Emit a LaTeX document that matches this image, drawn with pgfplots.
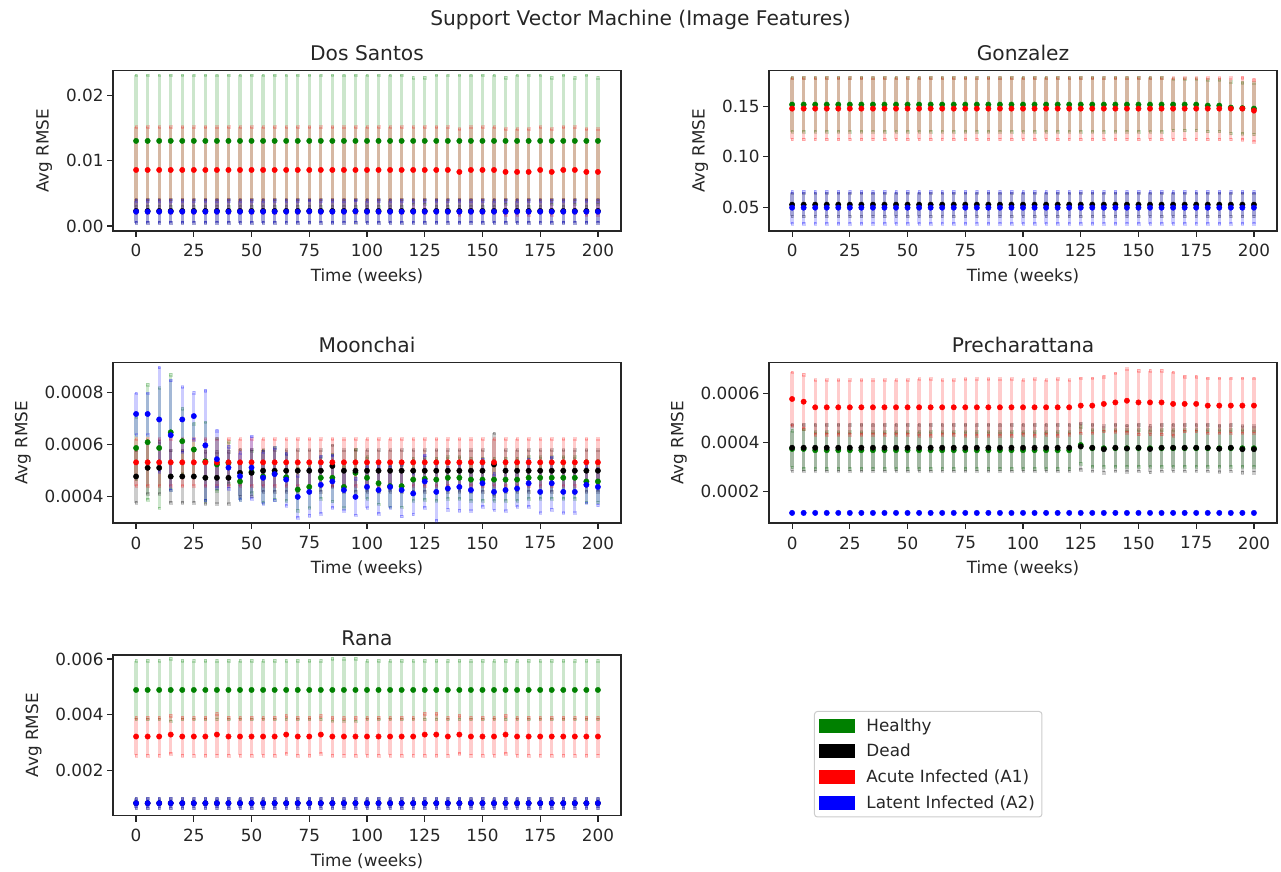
\documentclass[border=0pt]{standalone}
\usepackage{pgfplots}
\pgfplotsset{compat=1.18}
\usepackage{pgfplotstable}
\usepackage{fontspec}
\setmainfont{DejaVu Sans}

\definecolor{mplgreen}{RGB}{0,128,0}
\definecolor{mplred}{RGB}{255,0,0}
\definecolor{mplblue}{RGB}{0,0,255}
\definecolor{legframe}{RGB}{204,204,204}
\definecolor{txt}{RGB}{38,38,38}

\newcommand{\smallfont}{\fontsize{16.8pt}{20pt}\selectfont}
\newcommand{\bigfont}{\fontsize{20.2pt}{24pt}\selectfont}

% x: week; g/d/r/b: mean RMSE of Healthy, Dead, Acute (A1), Latent (A2); *e: error
\pgfplotstableread{
x g ge d de r re b be
0 0.01306 0.0101 0.0023 0.0018 0.0086 0.0066 0.00220 0.0017
5 0.01306 0.0101 0.0023 0.0018 0.0086 0.0066 0.00220 0.0017
10 0.01306 0.0101 0.0023 0.0018 0.0086 0.0066 0.00220 0.0017
15 0.01306 0.0101 0.0023 0.0018 0.0086 0.0066 0.00220 0.0017
20 0.01306 0.0101 0.0023 0.0018 0.0086 0.0066 0.00220 0.0017
25 0.01306 0.0101 0.0023 0.0018 0.0086 0.0066 0.00220 0.0017
30 0.01306 0.0101 0.0023 0.0018 0.0086 0.0066 0.00220 0.0017
35 0.01306 0.0101 0.0023 0.0018 0.0086 0.0066 0.00220 0.0017
40 0.01306 0.0101 0.0023 0.0018 0.0086 0.0066 0.00220 0.0017
45 0.01306 0.0101 0.0023 0.0018 0.0086 0.0066 0.00220 0.0017
50 0.01306 0.0101 0.0023 0.0018 0.0086 0.0066 0.00220 0.0017
55 0.01306 0.0101 0.0023 0.0018 0.0086 0.0066 0.00220 0.0017
60 0.01306 0.0101 0.0023 0.0018 0.0086 0.0066 0.00220 0.0017
65 0.01306 0.0101 0.0023 0.0018 0.0086 0.0066 0.00220 0.0017
70 0.01306 0.0101 0.0023 0.0018 0.0086 0.0066 0.00220 0.0017
75 0.01306 0.0101 0.0023 0.0018 0.0086 0.0066 0.00225 0.0017
80 0.01306 0.0101 0.0023 0.0018 0.0086 0.0066 0.00220 0.0017
85 0.01306 0.0101 0.0023 0.0018 0.0086 0.0066 0.00220 0.0017
90 0.01306 0.0101 0.0023 0.0018 0.0086 0.0066 0.00220 0.0017
95 0.01306 0.0101 0.0023 0.0018 0.0086 0.0066 0.00225 0.0017
100 0.01306 0.0101 0.0023 0.0018 0.0086 0.0066 0.00220 0.0017
105 0.01306 0.0101 0.0023 0.0018 0.0086 0.0066 0.00220 0.0017
110 0.01306 0.0101 0.0023 0.0018 0.0086 0.0066 0.00220 0.0017
115 0.01306 0.0101 0.0023 0.0018 0.0086 0.0066 0.00220 0.0017
120 0.01306 0.0097 0.0023 0.0018 0.0086 0.0066 0.00220 0.0017
125 0.01306 0.0097 0.0023 0.0018 0.0086 0.0066 0.00220 0.0017
130 0.01306 0.0101 0.0023 0.0018 0.0086 0.0066 0.00220 0.0017
135 0.01306 0.0101 0.0023 0.0018 0.0086 0.0066 0.00220 0.0017
140 0.01306 0.0101 0.0023 0.0018 0.0083 0.0066 0.00220 0.0017
145 0.01306 0.0101 0.0023 0.0018 0.0086 0.0066 0.00220 0.0017
150 0.01306 0.0101 0.0023 0.0018 0.0086 0.0066 0.00220 0.0017
155 0.01306 0.0101 0.0023 0.0018 0.0086 0.0066 0.00220 0.0017
160 0.01306 0.0097 0.0023 0.0018 0.0083 0.0066 0.00220 0.0017
165 0.01306 0.0101 0.0023 0.0018 0.0083 0.0066 0.00220 0.0017
170 0.01306 0.0101 0.0023 0.0018 0.0083 0.0066 0.00220 0.0017
175 0.01306 0.0101 0.0023 0.0018 0.0086 0.0066 0.00220 0.0017
180 0.01306 0.0097 0.0023 0.0018 0.0083 0.0066 0.00220 0.0017
185 0.01306 0.0101 0.0023 0.0018 0.0086 0.0066 0.00220 0.0017
190 0.01306 0.0097 0.0023 0.0018 0.0086 0.0066 0.00220 0.0017
195 0.01306 0.0101 0.0023 0.0018 0.0083 0.0066 0.00220 0.0017
200 0.01306 0.0097 0.0023 0.0018 0.0083 0.0066 0.00220 0.0017
}\dossantos

\pgfplotstableread{
x g ge d de r re b be
0 0.152 0.027 0.0525 0.0115 0.148 0.0305 0.0495 0.016
5 0.152 0.027 0.0525 0.0115 0.148 0.0305 0.0495 0.016
10 0.152 0.027 0.0525 0.0115 0.148 0.0305 0.0495 0.016
15 0.152 0.027 0.0525 0.0115 0.148 0.0305 0.0495 0.016
20 0.152 0.027 0.0525 0.0115 0.148 0.0305 0.0495 0.016
25 0.152 0.027 0.0525 0.0115 0.148 0.0305 0.0495 0.016
30 0.152 0.027 0.0525 0.0115 0.148 0.0305 0.0495 0.016
35 0.152 0.027 0.0525 0.0115 0.148 0.0305 0.0495 0.016
40 0.152 0.027 0.0525 0.0115 0.148 0.0305 0.0495 0.016
45 0.152 0.027 0.0525 0.0115 0.148 0.0305 0.0495 0.016
50 0.152 0.027 0.0525 0.0115 0.148 0.0305 0.0495 0.016
55 0.152 0.027 0.0525 0.0115 0.148 0.0305 0.0495 0.016
60 0.152 0.027 0.0525 0.0115 0.148 0.0305 0.0495 0.016
65 0.152 0.027 0.0525 0.0115 0.148 0.0305 0.0495 0.016
70 0.152 0.027 0.0525 0.0115 0.148 0.0305 0.0495 0.016
75 0.152 0.027 0.0525 0.0115 0.148 0.0305 0.0495 0.016
80 0.152 0.027 0.0525 0.0115 0.148 0.0305 0.0495 0.016
85 0.152 0.027 0.0525 0.0115 0.148 0.0305 0.0495 0.016
90 0.152 0.027 0.0525 0.0115 0.148 0.0305 0.0495 0.016
95 0.152 0.027 0.0525 0.0115 0.148 0.0305 0.0495 0.016
100 0.152 0.027 0.0525 0.0115 0.148 0.0305 0.0495 0.016
105 0.152 0.027 0.0525 0.0115 0.148 0.0305 0.0495 0.016
110 0.152 0.027 0.0525 0.0115 0.148 0.0305 0.0495 0.016
115 0.152 0.027 0.0525 0.0115 0.148 0.0305 0.0495 0.016
120 0.152 0.027 0.0525 0.0115 0.148 0.0305 0.0495 0.016
125 0.152 0.027 0.0525 0.0115 0.148 0.0305 0.0495 0.016
130 0.152 0.027 0.0525 0.0115 0.148 0.0305 0.0495 0.016
135 0.152 0.027 0.0525 0.0115 0.148 0.0305 0.0495 0.016
140 0.152 0.027 0.0525 0.0115 0.148 0.0305 0.0495 0.016
145 0.152 0.027 0.0525 0.0115 0.148 0.0305 0.0495 0.016
150 0.152 0.027 0.0525 0.0115 0.148 0.0305 0.0495 0.016
155 0.152 0.027 0.0525 0.0115 0.148 0.0305 0.0495 0.016
160 0.152 0.027 0.0525 0.0115 0.148 0.0305 0.0495 0.016
165 0.152 0.0255 0.0525 0.0115 0.148 0.0305 0.0495 0.016
170 0.152 0.0255 0.0525 0.0115 0.148 0.0305 0.0495 0.016
175 0.152 0.0255 0.0525 0.0115 0.148 0.0305 0.0495 0.016
180 0.151 0.0255 0.0525 0.0115 0.148 0.0305 0.0495 0.016
185 0.151 0.0255 0.0525 0.0115 0.148 0.0305 0.0495 0.016
190 0.149 0.0255 0.0525 0.0115 0.148 0.0305 0.0495 0.016
195 0.1485 0.0255 0.0525 0.0115 0.148 0.031 0.0495 0.016
200 0.148 0.0255 0.0525 0.0115 0.146 0.031 0.0495 0.016
}\gonzalez

\pgfplotstableread{
x g ge d de r re b be
0 0.000587 0.00012 0.000478 0.0001 0.000532 0.00009 0.000717 0.00008
5 0.000609 0.00022 0.000511 0.0001 0.000532 0.00009 0.000717 0.00008
10 0.000587 0.00023 0.000511 0.0001 0.000532 0.00009 0.000696 0.0002
15 0.000647 0.00022 0.000478 0.0001 0.000532 0.00009 0.000636 0.00021
20 0.000613 0.000125 0.000478 0.0001 0.000532 0.00009 0.000696 0.000125
25 0.000581 0.0001 0.000478 0.0001 0.000532 0.00009 0.000709 0.00009
30 0.000536 0.00015 0.000473 0.0001 0.000532 0.00009 0.000597 0.00021
35 0.000524 0.0001 0.000473 0.0001 0.000532 0.00009 0.000544 0.00011
40 0.00053 0.00008 0.000473 0.0001 0.000532 0.00009 0.000512 0.00008
45 0.000459 0.00007 0.000492 0.00009 0.000532 0.00009 0.000479 0.00009
50 0.000495 0.00008 0.000492 0.00009 0.000532 0.00009 0.000512 0.00012
55 0.000478 0.0001 0.0005 0.00008 0.000532 0.00009 0.000473 0.0001
60 0.00049 0.0001 0.0005 0.00008 0.000532 0.00009 0.000487 0.0001
65 0.000475 0.00009 0.0005 0.00008 0.000532 0.00009 0.000466 0.0001
70 0.000428 0.00008 0.0005 0.00008 0.000532 0.00009 0.0004 0.00008
75 0.000438 0.00008 0.0005 0.00008 0.000532 0.00009 0.000419 0.00009
80 0.000473 0.00008 0.0005 0.00008 0.000532 0.00009 0.000446 0.00011
85 0.000473 0.00009 0.000518 0.00008 0.000532 0.00009 0.000459 0.0001
90 0.000438 0.00008 0.0005 0.00008 0.000532 0.00009 0.000426 0.00008
95 0.000492 0.00009 0.0005 0.00008 0.000532 0.00009 0.0004 0.00007
100 0.000473 0.00008 0.0005 0.00008 0.000532 0.00009 0.000438 0.00008
105 0.000452 0.00008 0.0005 0.00008 0.000532 0.00009 0.000426 0.00009
110 0.000441 0.00008 0.0005 0.00008 0.000532 0.00009 0.000438 0.00008
115 0.000441 0.00008 0.0005 0.00008 0.000532 0.00009 0.000426 0.0001
120 0.000466 0.00008 0.0005 0.00008 0.000532 0.00009 0.000413 0.00008
125 0.000469 0.00008 0.0005 0.00008 0.000532 0.00009 0.000459 0.0001
130 0.000466 0.00008 0.0005 0.00008 0.000532 0.00009 0.000419 0.00011
135 0.000473 0.00008 0.0005 0.00008 0.000532 0.00009 0.000432 0.00008
140 0.000473 0.00008 0.0005 0.00008 0.000532 0.00009 0.000438 0.00009
145 0.000466 0.00008 0.0005 0.00008 0.000532 0.00009 0.000426 0.00008
150 0.000466 0.00008 0.0005 0.00008 0.000532 0.00009 0.000452 0.00009
155 0.000466 0.00008 0.000524 0.00012 0.000532 0.00009 0.000419 0.00007
160 0.000466 0.00008 0.0005 0.00008 0.000532 0.00009 0.000426 0.00008
165 0.000466 0.00008 0.0005 0.00008 0.000532 0.00009 0.000432 0.00007
170 0.000473 0.00008 0.0005 0.00008 0.000532 0.00009 0.000452 0.00009
175 0.000473 0.00008 0.0005 0.00008 0.000532 0.00009 0.000419 0.00008
180 0.000473 0.00008 0.0005 0.00008 0.000532 0.00009 0.000452 0.0001
185 0.000473 0.00008 0.0005 0.00008 0.000532 0.00009 0.000419 0.00008
190 0.000473 0.00008 0.0005 0.00008 0.000532 0.00009 0.000419 0.00008
195 0.000459 0.00008 0.0005 0.00008 0.000532 0.00009 0.000446 0.00007
200 0.000459 0.00008 0.0005 0.00008 0.000532 0.00009 0.000438 0.00007
}\moonchai

\pgfplotstableread{
x g ge d de r re b be
0 0.000374 0.000075 0.000379 0.000095 0.000578 0.00011 0.000113 0.000003
5 0.000374 0.00008 0.000379 0.000095 0.000567 0.00011 0.000113 0.000003
10 0.000369 0.000075 0.000379 0.000095 0.000544 0.000112 0.000113 0.000003
15 0.000369 0.000075 0.000379 0.000095 0.000544 0.000112 0.000113 0.000003
20 0.000369 0.000075 0.000379 0.000095 0.000544 0.000112 0.000113 0.000003
25 0.000369 0.000075 0.000379 0.000095 0.000544 0.000112 0.000113 0.000003
30 0.000369 0.000075 0.000379 0.000095 0.000544 0.000112 0.000113 0.000003
35 0.000369 0.000075 0.000379 0.000095 0.000544 0.000112 0.000113 0.000003
40 0.000369 0.000075 0.000379 0.000095 0.000544 0.000112 0.000113 0.000003
45 0.000369 0.000075 0.000379 0.000095 0.000544 0.000112 0.000113 0.000003
50 0.000369 0.000075 0.000379 0.000095 0.000544 0.000112 0.000113 0.000003
55 0.000369 0.000075 0.000379 0.000095 0.000544 0.000116 0.000113 0.000003
60 0.000369 0.000075 0.000379 0.000095 0.000544 0.000116 0.000113 0.000003
65 0.000369 0.000075 0.000379 0.000095 0.000544 0.000112 0.000113 0.000003
70 0.000369 0.000075 0.000379 0.000095 0.000544 0.000112 0.000113 0.000003
75 0.000369 0.000075 0.000379 0.000095 0.000544 0.000116 0.000113 0.000003
80 0.000369 0.000075 0.000379 0.000095 0.000544 0.000116 0.000113 0.000003
85 0.000369 0.000075 0.000379 0.000095 0.000544 0.000116 0.000113 0.000003
90 0.000369 0.000075 0.000379 0.000095 0.000544 0.000116 0.000113 0.000003
95 0.000369 0.000075 0.000379 0.000095 0.000544 0.000116 0.000113 0.000003
100 0.000369 0.000075 0.000379 0.000095 0.000544 0.000112 0.000113 0.000003
105 0.000369 0.000075 0.000379 0.000095 0.000544 0.000116 0.000113 0.000003
110 0.000369 0.000075 0.000379 0.000095 0.000544 0.000112 0.000113 0.000003
115 0.000369 0.000075 0.000379 0.000095 0.000544 0.000116 0.000113 0.000003
120 0.000369 0.000075 0.000379 0.000095 0.000544 0.000112 0.000113 0.000003
125 0.00039 0.000075 0.000384 0.000095 0.000551 0.000112 0.000113 0.000003
130 0.000377 0.000075 0.000379 0.000095 0.000551 0.000112 0.000113 0.000003
135 0.000377 0.000075 0.000373 0.000095 0.000558 0.000112 0.000113 0.000003
140 0.000377 0.000075 0.000379 0.000095 0.000564 0.00012 0.000113 0.000003
145 0.000377 0.000075 0.000376 0.000095 0.000571 0.00013 0.000113 0.000003
150 0.000377 0.000075 0.000379 0.000095 0.000564 0.00013 0.000113 0.000003
155 0.000377 0.000075 0.000374 0.000095 0.000564 0.00013 0.000113 0.000003
160 0.000377 0.000075 0.000379 0.000095 0.000564 0.00013 0.000113 0.000003
165 0.000377 0.000075 0.000379 0.000095 0.000558 0.00013 0.000113 0.000003
170 0.000377 0.000075 0.000379 0.000095 0.000558 0.000112 0.000113 0.000003
175 0.000377 0.000075 0.000379 0.000095 0.000558 0.000112 0.000113 0.000003
180 0.000377 0.000075 0.000379 0.000095 0.000551 0.000112 0.000113 0.000003
185 0.000377 0.000075 0.000375 0.000095 0.000551 0.000112 0.000113 0.000003
190 0.000377 0.000075 0.000379 0.000095 0.000551 0.000112 0.000113 0.000003
195 0.000377 0.000075 0.000373 0.000095 0.000551 0.000112 0.000113 0.000003
200 0.000377 0.000075 0.000373 0.000095 0.000551 0.000112 0.000113 0.000003
}\precharattana

\pgfplotstableread{
x g ge d de r re b be
0 0.00489 0.00105 0.00083 0.00018 0.00322 0.00068 0.00083 0.00016
5 0.00489 0.00105 0.00083 0.00018 0.00322 0.00068 0.00083 0.00016
10 0.00489 0.00105 0.00083 0.00018 0.00322 0.00068 0.00083 0.00016
15 0.00489 0.00112 0.00083 0.00018 0.00329 0.00068 0.00083 0.00016
20 0.00489 0.00105 0.00083 0.00018 0.00322 0.00068 0.00083 0.00016
25 0.00489 0.00105 0.00083 0.00018 0.00322 0.00068 0.00083 0.00016
30 0.00489 0.00105 0.00083 0.00018 0.00322 0.00068 0.00083 0.00016
35 0.00489 0.00105 0.00083 0.00018 0.00329 0.00075 0.00083 0.00016
40 0.00489 0.00105 0.00083 0.00018 0.00322 0.00068 0.00083 0.00016
45 0.00489 0.00105 0.00083 0.00018 0.00322 0.00068 0.00083 0.00016
50 0.00489 0.00105 0.00083 0.00018 0.00322 0.00068 0.00083 0.00016
55 0.00489 0.00105 0.00083 0.00018 0.00322 0.00068 0.00083 0.00016
60 0.00489 0.00105 0.00083 0.00018 0.00322 0.00068 0.00083 0.00016
65 0.00489 0.00105 0.00083 0.00018 0.00329 0.00068 0.00083 0.00016
70 0.00489 0.00105 0.00083 0.00018 0.00322 0.00068 0.00083 0.00016
75 0.00489 0.00105 0.00083 0.00018 0.00322 0.00068 0.00083 0.00016
80 0.00489 0.00105 0.00083 0.00018 0.00329 0.00068 0.00083 0.00016
85 0.00489 0.00112 0.00083 0.00018 0.00322 0.00068 0.00083 0.00016
90 0.00489 0.00112 0.00083 0.00018 0.00322 0.00068 0.00083 0.00016
95 0.00489 0.00112 0.00083 0.00018 0.00322 0.00068 0.00083 0.00016
100 0.00489 0.00105 0.00083 0.00018 0.00322 0.00068 0.00083 0.00016
105 0.00489 0.00105 0.00083 0.00018 0.00322 0.00068 0.00083 0.00016
110 0.00489 0.00105 0.00083 0.00018 0.00322 0.00068 0.00083 0.00016
115 0.00489 0.00105 0.00083 0.00018 0.00322 0.00068 0.00083 0.00016
120 0.00489 0.00105 0.00083 0.00018 0.00322 0.00068 0.00083 0.00016
125 0.00489 0.00105 0.00083 0.00018 0.00329 0.00075 0.00083 0.00016
130 0.00489 0.00105 0.00083 0.00018 0.00329 0.00075 0.00083 0.00016
135 0.00489 0.00105 0.00083 0.00018 0.00322 0.00068 0.00083 0.00016
140 0.00489 0.00105 0.00083 0.00018 0.00329 0.00068 0.00083 0.00016
145 0.00489 0.00105 0.00083 0.00018 0.00322 0.00068 0.00083 0.00016
150 0.00489 0.00105 0.00083 0.00018 0.00322 0.00068 0.00083 0.00016
155 0.00489 0.00105 0.00083 0.00018 0.00322 0.00068 0.00083 0.00016
160 0.00489 0.00105 0.00083 0.00018 0.00329 0.00068 0.00083 0.00016
165 0.00489 0.00105 0.00083 0.00018 0.00322 0.00068 0.00083 0.00016
170 0.00489 0.00105 0.00083 0.00018 0.00322 0.00068 0.00083 0.00016
175 0.00489 0.00105 0.00083 0.00018 0.00322 0.00068 0.00083 0.00016
180 0.00489 0.00105 0.00083 0.00018 0.00322 0.00068 0.00083 0.00016
185 0.00489 0.00105 0.00083 0.00018 0.00322 0.00068 0.00083 0.00016
190 0.00489 0.00105 0.00083 0.00018 0.00322 0.00068 0.00083 0.00016
195 0.00489 0.00105 0.00083 0.00018 0.00322 0.00068 0.00083 0.00016
200 0.00489 0.00105 0.00083 0.00018 0.00322 0.00068 0.00083 0.00016
}\rana

\pgfplotsset{
  panel/.style={
    scale only axis, width=508pt, height=160.5pt,
    xmin=-10, xmax=210,
    xtick={0,25,50,75,100,125,150,175,200},
    xticklabels={0,25,50,75,100,125,150,175,200},
    scaled y ticks=false,
    tick align=outside, tick pos=left,
    major tick length=6pt,
    every tick/.style={txt, line width=1.2pt},
    axis line style={txt, line width=1.2pt},
    tick label style={font=\smallfont, text=txt},
    label style={font=\smallfont, text=txt},
    title style={font=\bigfont, text=txt},
    xticklabel shift=4pt,
    xlabel shift=5pt,
    ylabel shift=7pt,
    xlabel={Time (weeks)}, ylabel={Avg RMSE},
    clip=false,
  },
  ser/.style={
    only marks, mark=*, mark size=2.7pt, color=#1, forget plot,
    mark options={fill=#1, draw=#1, line width=0.4pt},
    error bars/.cd, y dir=both, y explicit,
    error bar style={line width=3.3pt, draw opacity=0.2},
    error mark=square*,
    error mark options={mark size=1.3pt, draw=none, fill=#1, fill opacity=0.2},
  },
}

% the four groups of one panel, each with its error bars
\newcommand{\groups}[1]{%
  \addplot[ser=mplgreen] table[x=x, y=g, y error=ge] {#1};
  \addplot[ser=black]    table[x=x, y=d, y error=de] {#1};
  \addplot[ser=mplred]   table[x=x, y=r, y error=re] {#1};
  \addplot[ser=mplblue]  table[x=x, y=b, y error=be] {#1};
}

\begin{document}
\begin{tikzpicture}
\useasboundingbox (0pt,0pt) rectangle (1281pt,871pt);

\node[font=\bigfont, text=txt] at (640.5pt,851pt) {Support Vector Machine (Image Features)};

\begin{axis}[panel, at={(113pt,640pt)}, anchor=south west, title={Dos Santos},
  ymin=-0.00077, ymax=0.02387,
  ytick={0,0.01,0.02}, yticklabels={0.00,0.01,0.02}]
  \groups{\dossantos}
\end{axis}

\begin{axis}[panel, at={(769pt,640pt)}, anchor=south west, title={Gonzalez},
  ymin=0.0263, ymax=0.1859,
  ytick={0.05,0.10,0.15}, yticklabels={0.05,0.10,0.15}]
  \groups{\gonzalez}
\end{axis}

\begin{axis}[panel, at={(113pt,348pt)}, anchor=south west, title={Moonchai},
  ymin=0.0003, ymax=0.000914,
  ytick={0.0004,0.0006,0.0008}, yticklabels={0.0004,0.0006,0.0008}]
  \groups{\moonchai}
\end{axis}

\begin{axis}[panel, at={(769pt,348pt)}, anchor=south west, title={Precharattana},
  ymin=0.0000717, ymax=0.000727,
  ytick={0.0002,0.0004,0.0006}, yticklabels={0.0002,0.0004,0.0006}]
  \groups{\precharattana}
\end{axis}

\begin{axis}[panel, at={(113pt,55.5pt)}, anchor=south west, title={Rana},
  ymin=0.000388, ymax=0.006143,
  ytick={0.002,0.004,0.006}, yticklabels={0.002,0.004,0.006},
  legend cell align=left,
  legend style={at={(axis description cs:1.3799,0.6515)}, anchor=north west,
    draw=legframe, line width=1pt, rounded corners=3pt, fill=white,
    font=\smallfont, text=txt, inner xsep=5pt, inner ysep=5pt,
    row sep=7.5pt, column sep=9pt}]
  \groups{\rana}
  \addlegendimage{legend image code/.code={\fill[mplgreen, sharp corners] (0pt,-6.5pt) rectangle (35pt,6.5pt);}}
  \addlegendentry{Healthy}
  \addlegendimage{legend image code/.code={\fill[black, sharp corners] (0pt,-6.5pt) rectangle (35pt,6.5pt);}}
  \addlegendentry{Dead}
  \addlegendimage{legend image code/.code={\fill[mplred, sharp corners] (0pt,-6.5pt) rectangle (35pt,6.5pt);}}
  \addlegendentry{Acute Infected (A1)}
  \addlegendimage{legend image code/.code={\fill[mplblue, sharp corners] (0pt,-6.5pt) rectangle (35pt,6.5pt);}}
  \addlegendentry{Latent Infected (A2)}
\end{axis}
\end{tikzpicture}
\end{document}
